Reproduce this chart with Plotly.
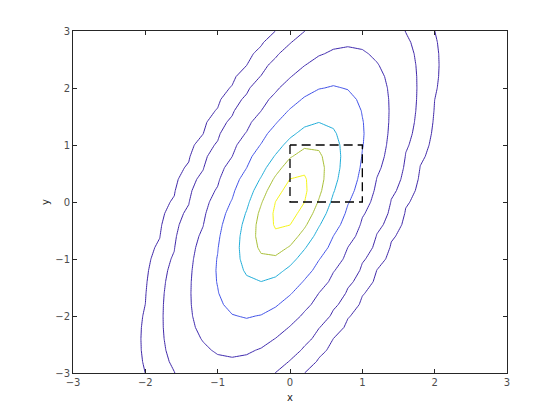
import numpy as np
import plotly.graph_objects as go

# Bivariate normal parameters (mvnpdf contours)
mu = [0.0, 0.0]
sigma = [[0.25, 0.3], [0.3, 1.0]]
grid_min, grid_max, grid_step = -3.0, 3.0, 0.2
levels = [0.0001, 0.001, 0.01, 0.05, 0.15, 0.25, 0.35]
rect_x = [0, 0, 1, 1, 0]
rect_y = [1, 0, 0, 1, 1]
tick_vals = [-3, -2, -1, 0, 1, 2, 3]

# styles
level_colors = ["#3e26a8", "#3e26a8", "#3e29ae", "#4152e8", "#1fadd9", "#a8bf35", "#f5f516"]

n = int(round((grid_max - grid_min) / grid_step)) + 1
xs = np.linspace(grid_min, grid_max, n)
ys = np.linspace(grid_min, grid_max, n)
X, Y = np.meshgrid(xs, ys)
S = np.array(sigma)
Si = np.linalg.inv(S)
dx = X - mu[0]
dy = Y - mu[1]
q = Si[0, 0] * dx * dx + 2 * Si[0, 1] * dx * dy + Si[1, 1] * dy * dy
F = np.exp(-0.5 * q) / (2 * np.pi * np.sqrt(np.linalg.det(S)))

fig = go.Figure()
for lev, col in zip(levels, level_colors):
    fig.add_trace(go.Contour(
        x=xs, y=ys, z=F,
        autocontour=False,
        contours=dict(start=lev, end=lev, size=1, coloring="none"),
        line=dict(color=col, width=1, smoothing=0),
        showscale=False, hoverinfo="skip",
    ))

fig.add_trace(go.Scatter(
    x=rect_x, y=rect_y, mode="lines",
    line=dict(color="black", width=1.3, dash="9px,5px"),
    hoverinfo="skip", showlegend=False,
))

axis_common = dict(
    range=[-3, 3], tickvals=tick_vals, ticks="inside", ticklen=4, tickwidth=1,
    tickcolor="#262626", showline=True, linecolor="#262626", linewidth=1,
    mirror="ticks", showgrid=False, zeroline=False,
    tickfont=dict(family="DejaVu Sans", size=10, color="#4d4d4d"),
)
fig.update_layout(
    width=560, height=420,
    margin=dict(l=65, r=61, t=23, b=55),
    paper_bgcolor="white", plot_bgcolor="white",
    showlegend=False,
    xaxis=dict(**axis_common, title=dict(text="x", standoff=6,
               font=dict(family="DejaVu Sans", size=10, color="#262626"))),
    yaxis=dict(**axis_common, title=dict(text="y", standoff=3,
               font=dict(family="DejaVu Sans", size=10, color="#262626"))),
)
fig.write_html("out.html")
